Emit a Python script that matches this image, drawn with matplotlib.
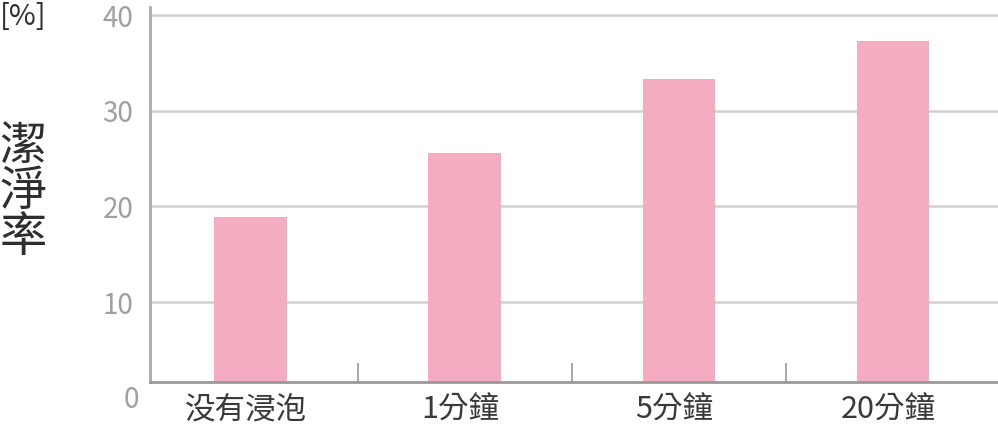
import matplotlib.pyplot as plt
from matplotlib.ticker import FixedLocator
from matplotlib.transforms import ScaledTranslation

plt.rcParams['font.family'] = ['Noto Sans CJK TC', 'DejaVu Sans']

# 數據
categories = ['没有浸泡', '1分鐘', '5分鐘', '20分鐘']
clean_rate = [18.9, 25.6, 33.3, 37.3]
y_ticks = [10, 20, 30, 40]
y_tick_labels = ['10', '20', '30', '40']

bar_color = '#f4adc0'
y_bottom = 1.64
y_top = 40.85

fig = plt.figure(figsize=(9.98, 4.34), dpi=100)
ax = fig.add_axes([0.1503, 0.1198, 0.8497, 0.864])

x = range(len(categories))
ax.bar(x, clean_rate, width=0.34, color=bar_color, zorder=3)

ax.set_xlim(-0.47, 3.49)
ax.set_ylim(y_bottom, y_top)

# 格線
ax.set_yticks(y_ticks)
ax.set_yticklabels(y_tick_labels, color='#a0a0a0', fontsize=20)
ax.grid(axis='y', color='#d0d0d0', linewidth=1.8, zorder=0)
ax.tick_params(axis='y', length=0, pad=12)

# x 軸
ax.set_xticks(list(x))
ax.set_xticklabels(categories, color='#3a3a3a', fontsize=22)
ax.tick_params(axis='x', which='major', length=0, pad=9)
shift = ScaledTranslation(-5 / 100, 0, fig.dpi_scale_trans)
for lbl in ax.get_xticklabels():
    lbl.set_transform(lbl.get_transform() + shift)
ax.xaxis.set_minor_locator(FixedLocator([0.5, 1.5, 2.5]))
ax.tick_params(axis='x', which='minor', direction='in', length=14,
               width=1.2, color='#999999')

for side in ['top', 'right']:
    ax.spines[side].set_visible(False)
ax.spines['left'].set_color('#aaaaaa')
ax.spines['left'].set_linewidth(2)
ax.spines['bottom'].set_color('#999999')
ax.spines['bottom'].set_linewidth(2)
ax.spines['bottom'].set_zorder(4)

# 底部的 0
ax.annotate('0', xy=(0, y_bottom), xycoords=('axes fraction', 'data'),
            xytext=(-8, -2), textcoords='offset points',
            ha='right', va='top', color='#a0a0a0', fontsize=20)

# 軸標題
fig.text(0.023, 0.558, '潔\n淨\n率', ha='center', va='center',
         fontsize=34, color='#2e2e2e', linespacing=0.92)
fig.text(0.0, 0.995, '[%]', ha='left', va='top',
         fontsize=21, color='#2e2e2e')

fig.savefig('out.png', dpi=100)
